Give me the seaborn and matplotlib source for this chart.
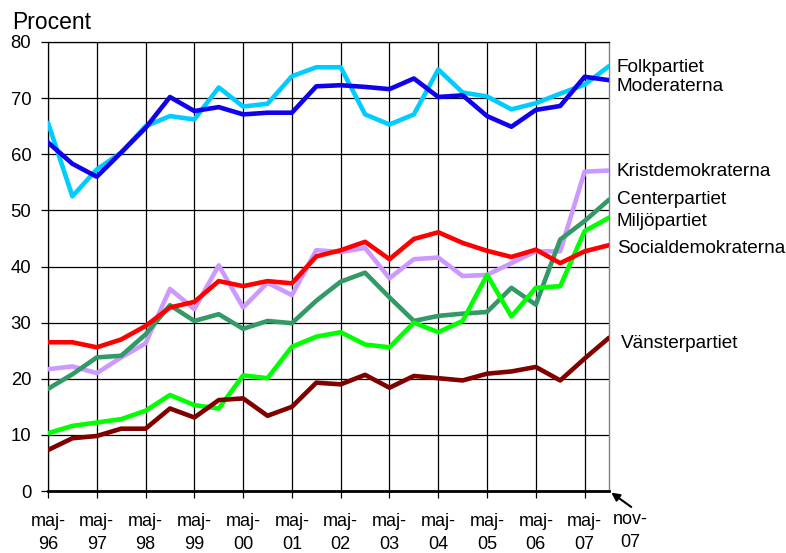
import matplotlib
matplotlib.use("Agg")
import matplotlib.pyplot as plt
import seaborn as sns
import pandas as pd
import numpy as np

# ---- data -------------------------------------------------------------
periods = ["maj-96", "nov-96", "maj-97", "nov-97", "maj-98", "nov-98", "maj-99", "nov-99",
           "maj-00", "nov-00", "maj-01", "nov-01", "maj-02", "nov-02", "maj-03", "nov-03",
           "maj-04", "nov-04", "maj-05", "nov-05", "maj-06", "nov-06", "maj-07", "nov-07"]

folkpartiet = [65.6, 52.5, 57.3, 60.3, 65.0, 66.8, 66.2, 71.9, 68.5, 69.0, 73.9, 75.5,
               75.5, 67.1, 65.3, 67.1, 75.1, 71.0, 70.3, 68.0, 69.1, 70.8, 72.4, 75.7]
moderaterna = [62.1, 58.3, 56.0, 60.3, 64.7, 70.2, 67.7, 68.4, 67.1, 67.4, 67.4, 72.1,
               72.3, 72.0, 71.6, 73.5, 70.2, 70.5, 66.8, 64.9, 67.9, 68.6, 73.8, 73.2]
kristdemokraterna = [21.7, 22.2, 21.0, 23.8, 26.3, 36.0, 32.4, 40.2, 32.7, 37.1, 34.9, 42.9,
                     42.6, 43.3, 37.9, 41.3, 41.6, 38.3, 38.5, 40.6, 42.7, 42.7, 56.9, 57.1]
centerpartiet = [18.2, 20.8, 23.8, 24.1, 27.9, 33.1, 30.3, 31.5, 28.9, 30.3, 29.9, 33.9,
                 37.3, 38.9, 34.5, 30.3, 31.2, 31.6, 31.9, 36.2, 33.2, 44.8, 48.1, 51.9]
miljopartiet = [10.3, 11.6, 12.2, 12.8, 14.3, 17.1, 15.3, 14.7, 20.6, 20.1, 25.7, 27.5,
                28.3, 26.1, 25.6, 30.0, 28.3, 30.3, 38.5, 31.1, 36.2, 36.5, 46.3, 48.7]
socialdemokraterna = [26.5, 26.5, 25.6, 27.0, 29.4, 32.7, 33.7, 37.4, 36.5, 37.4, 37.0, 41.8,
                      42.9, 44.4, 41.3, 44.9, 46.1, 44.2, 42.8, 41.7, 43.0, 40.6, 42.7, 43.8]
vansterpartiet = [7.3, 9.4, 9.8, 11.1, 11.1, 14.7, 13.1, 16.2, 16.5, 13.4, 15.0, 19.3,
                  19.0, 20.7, 18.4, 20.5, 20.1, 19.7, 20.9, 21.3, 22.1, 19.7, 23.6, 27.3]

parties = ["Folkpartiet", "Moderaterna", "Kristdemokraterna", "Centerpartiet",
           "Miljöpartiet", "Socialdemokraterna", "Vänsterpartiet"]
series = [folkpartiet, moderaterna, kristdemokraterna, centerpartiet,
          miljopartiet, socialdemokraterna, vansterpartiet]
colors = ["#00CCFF", "#1000EE", "#CC99FF", "#339966", "#00FF00", "#FF0000", "#800000"]

yticks = [0, 10, 20, 30, 40, 50, 60, 70, 80]

# ---- figure -----------------------------------------------------------
sns.set_style("white")
plt.rcParams["font.family"] = ["Liberation Sans", "DejaVu Sans"]
plt.rcParams["text.color"] = "black"
plt.rcParams["xtick.color"] = "black"
plt.rcParams["ytick.color"] = "black"
plt.rcParams["xtick.labelcolor"] = "black"
plt.rcParams["ytick.labelcolor"] = "black"

W, H = 786, 553
fig = plt.figure(figsize=(W / 100, H / 100), dpi=100)
ax = fig.add_axes([48 / W, 1 - 491 / H, (609 - 48) / W, (491 - 42) / H])

rows = []
for name, vals in zip(parties, series):
    for i, v in enumerate(vals):
        rows.append({"t": i, "party": name, "value": v})
df = pd.DataFrame(rows)

sns.lineplot(data=df, x="t", y="value", hue="party", hue_order=parties,
             palette=dict(zip(parties, colors)), linewidth=3.3, legend=False,
             ax=ax, sort=False, zorder=3)

ax.set_xlim(0, len(periods) - 1)
ax.set_ylim(0, 80)
ax.set_xlabel("")
ax.set_ylabel("")

xt = list(range(0, len(periods) - 1, 2))
ax.set_xticks(xt)
ax.set_xticklabels([periods[i].replace("-", "-\n") for i in xt], fontsize=13,
                   linespacing=1.5)
ax.set_yticks(yticks)
ax.set_yticklabels([str(y) for y in yticks], fontsize=13.3)

ax.grid(True, color="black", linewidth=0.9)
ax.set_axisbelow(True)
ax.tick_params(axis="x", direction="out", length=5, width=0.9, color="black", pad=10.5)
ax.tick_params(axis="y", direction="out", length=5, width=0.9, color="black", pad=7)
ax.xaxis.set_ticks_position("bottom")
ax.yaxis.set_ticks_position("left")

for s in ["left", "top"]:
    ax.spines[s].set_color("black")
    ax.spines[s].set_linewidth(0.9)
ax.spines["right"].set_color("#808080")
ax.spines["right"].set_linewidth(1.0)
ax.spines["bottom"].set_color("black")
ax.spines["bottom"].set_linewidth(2.0)
ax.spines["bottom"].set_zorder(4)

# last tick label with arrow
last = len(periods) - 1
ax.annotate("", xy=(last, 0), xycoords="data", xytext=(16, -11.5),
            textcoords="offset points",
            arrowprops=dict(arrowstyle="-|>", color="black", lw=1.5,
                            mutation_scale=12, shrinkA=0, shrinkB=2),
            annotation_clip=False)
ax.annotate(periods[last].replace("-", "-\n"), xy=(last, 0), xycoords="data",
            xytext=(15, -14.3), textcoords="offset points", ha="center", va="top",
            fontsize=13, linespacing=1.5, annotation_clip=False)

# series labels on the right
label_nudge = {"Folkpartiet": -0.3, "Moderaterna": -1.1, "Kristdemokraterna": -0.1,
               "Centerpartiet": 0.0, "Miljöpartiet": -0.6, "Socialdemokraterna": -0.6,
               "Vänsterpartiet": -1.1}
for name, vals in zip(parties, series):
    dx = 8.5 if name == "Vänsterpartiet" else 5.5
    ax.annotate(name, xy=(last, vals[-1] + label_nudge[name]), xycoords="data",
                xytext=(dx, 0), textcoords="offset points", ha="left",
                va="center", fontsize=13.7, annotation_clip=False)

fig.text(12 / W, 1 - 29 / H, "Procent", fontsize=16.5, ha="left", va="baseline")

fig.savefig("out.png", dpi=100)
